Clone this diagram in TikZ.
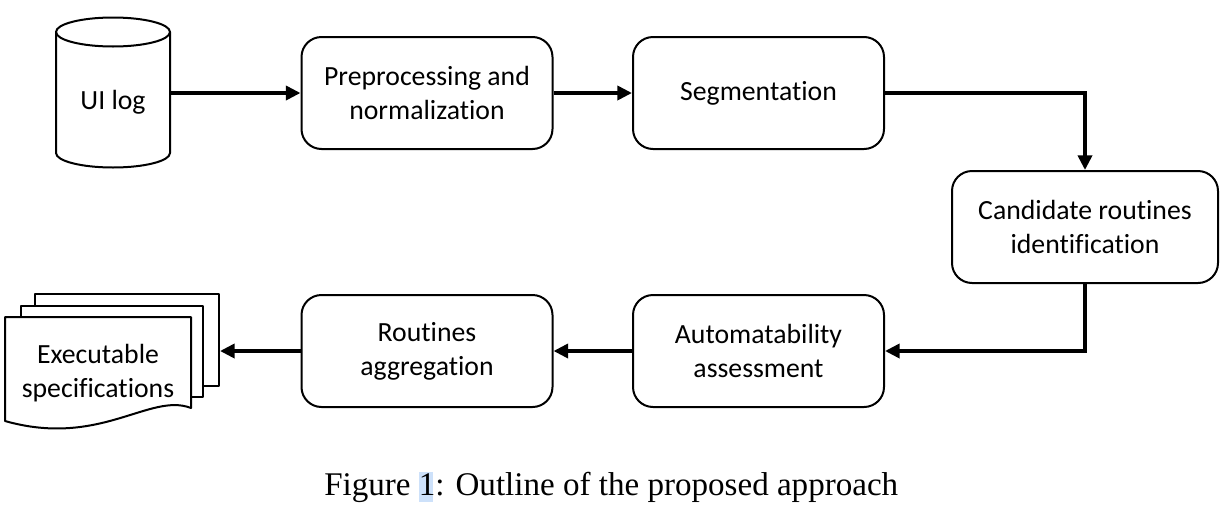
\documentclass[tikz,border=0pt]{standalone}
\usepackage{fontspec}
\setmainfont{Carlito}[Ligatures=NoCommon]
\newfontfamily\capfont{Liberation Serif}
\usetikzlibrary{arrows.meta}
\definecolor{linkbg}{RGB}{205,225,250}
\tikzset{
  stepbox/.style={draw=black, line width=1.5pt, rounded corners=15pt, fill=white,
    minimum width=188.25pt, minimum height=84pt, align=center, inner sep=0pt,
    font=\fontsize{20.8}{25.5}\selectfont},
  flow/.style={line width=3pt, -{Triangle[length=11pt,width=10.5pt]}},
  shapeline/.style={draw=black, line width=1.5pt, fill=white, line join=round},
  lbl/.style={align=center, inner sep=0pt, font=\fontsize{20.8}{25.5}\selectfont}
}
\begin{document}
\begin{tikzpicture}[x=0.75pt,y=-0.75pt]
\useasboundingbox (0,0) rectangle (1232,511);
% cylinder
\draw[shapeline] (56,32) -- (56,153) arc[start angle=180,end angle=0,x radius=57,y radius=14.5] -- (170,32) arc[start angle=0,end angle=-180,x radius=57,y radius=14.5] -- cycle;
\draw[shapeline, fill=none] (56,32) arc[start angle=180,end angle=0,x radius=57,y radius=14.5];
\node[lbl, minimum width=85.5pt, minimum height=90pt] (uilog) at (113,102) {UI log};
% boxes
\node[stepbox] (b1) at (427,93) {Preprocessing and\\normalization};
\node[stepbox] (b2) at (758.5,93) {Segmentation};
\node[stepbox, minimum width=199.5pt] (b3) at (1085,227) {Candidate routines\\identification};
\node[stepbox] (b4) at (758.5,351) {Automatability\\assessment};
\node[stepbox] (b5) at (427,351) {Routines\\aggregation};
% documents
\draw[shapeline] (35,294) rectangle (219,386);
\draw[shapeline] (21,306) rectangle (203,397);
\draw[shapeline] (5,317) -- (191,317) -- (191,408) .. controls (150,392) and (100,448) .. (5,421) -- cycle;
\node[lbl] (docs) at (98,373) {Executable\\specifications};
\coordinate (docsin) at (220,351);
% connectors
\draw[flow] (uilog.east |- b1.west) -- (b1.west);
\draw[flow] (b1.east) -- (b2.west);
\draw[flow] (b2.east) -| (b3.north);
\draw[flow] (b3.south) |- (b4.east);
\draw[flow] (b4.west) -- (b5.east);
\draw[flow] (b5.west) -- (docsin);
% caption
\fill[linkbg] (419,472) rectangle (433,502);
\node[anchor=base west, inner sep=0pt, font=\capfont\fontsize{24.8}{29}\selectfont] (cap) at (324,495) {Figure 1: Outline of the proposed approach};
\end{tikzpicture}
\end{document}
